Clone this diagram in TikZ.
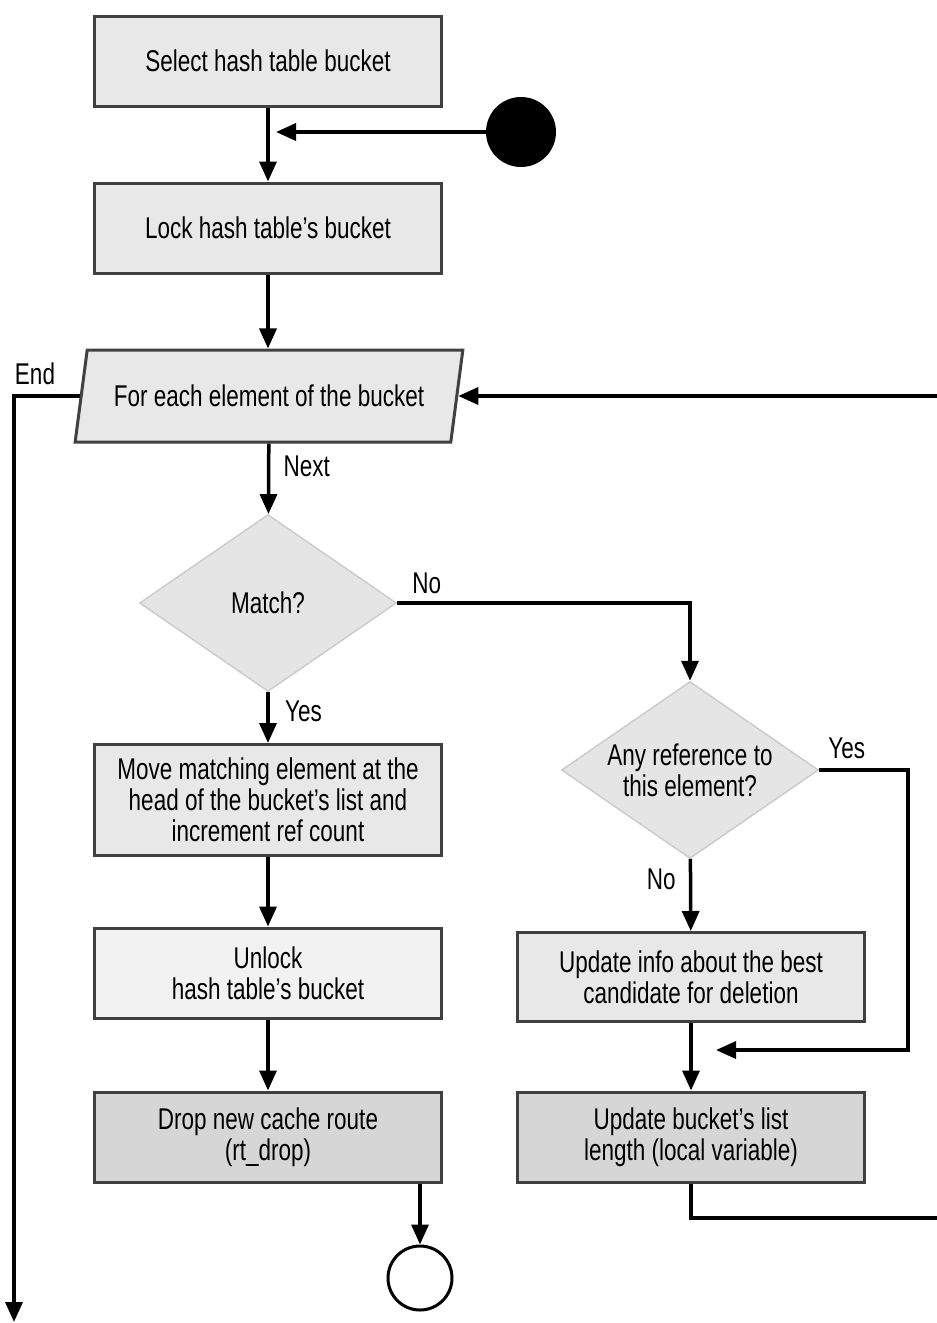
\documentclass[tikz,border=0pt]{standalone}
\usepackage{fontspec}
\setmainfont{Liberation Sans}[FakeStretch=0.75]
\usetikzlibrary{arrows.meta,shapes.geometric}
\definecolor{boxline}{gray}{0.25}
\definecolor{boxfill}{gray}{0.91}
\definecolor{palefill}{gray}{0.95}
\definecolor{darkfill}{gray}{0.84}
\definecolor{diafill}{gray}{0.90}
\definecolor{dialine}{gray}{0.80}

\begin{document}
\begin{tikzpicture}[x=1pt,y=-1pt,font=\fontsize{30}{31}\selectfont,
  box/.style={rectangle,draw=boxline,line width=3pt,fill=boxfill,minimum width=347pt,minimum height=90pt,align=center,inner sep=0pt},
  test/.style={diamond,draw=dialine,line width=1.5pt,fill=diafill,align=center,inner sep=0pt,aspect=1.44,minimum width=257pt,minimum height=177pt},
  arr/.style={line width=3.5pt,-{Triangle[length=20pt,width=17pt]}}]
  \useasboundingbox (0,0) rectangle (937,1323);
  % left column
  \node[box] (select) at (268,61) {Select hash table bucket};
  \node[box] (lock) at (268,228) {Lock hash table's bucket};
  \node[trapezium,trapezium left angle=65,trapezium right angle=115,trapezium stretches=true,draw=boxline,line width=3pt,fill=boxfill,minimum width=388pt,minimum height=92pt,inner sep=0pt] (each) at (269,396) {For each element of the bucket};
  \node[test] (match) at (268,603) {Match?};
  \node[box,minimum height=111pt] (move) at (268,800) {Move matching element at the\\head of the bucket's list and\\increment ref count};
  \node[box,fill=palefill] (unlock) at (268,973) {Unlock\\hash table's bucket};
  \node[box,fill=darkfill] (drop) at (268,1137) {Drop new cache route\\(rt\_drop)};
  % right column
  \node[test] (anyref) at (690,770) {Any reference to\\this element?};
  \node[box,minimum height=89pt] (info) at (691,977) {Update info about the best\\candidate for deletion};
  \node[box,fill=darkfill] (length) at (691,1137) {Update bucket's list\\length (local variable)};
  % start and stop
  \node[circle,fill=black,minimum size=70pt,inner sep=0pt] (start) at (521,132) {};
  \node[circle,draw=black,line width=3pt,fill=white,minimum size=64pt,inner sep=0pt] (stop) at (420,1278) {};
  \node (endlbl) at (35,374) {End};
  \coordinate (joinA) at (276,132);
  \coordinate (bendB) at (908,1050);
  \coordinate (joinB) at (716,1050);
  \coordinate (loopR) at (950,1218);
  \coordinate (endpt) at (14,1322);
  % connectors
  \draw[arr] (select) -- (lock);
  \draw[arr] (start) -- (joinA);
  \draw[arr] (lock) -- (lock.south |- each.north);
  \draw[arr] (each) -- node[right,xshift=10pt,yshift=12pt]{Next} (match);
  \draw[arr] (each.west) -| (endpt);
  \draw[arr] (match) -- node[right,xshift=12pt,yshift=6pt]{Yes} (move);
  \draw[arr] (match.east) node[above right,xshift=10pt,yshift=4pt]{No} -| (anyref.north);
  \draw[arr] (move) -- (unlock);
  \draw[arr] (unlock) -- (drop);
  \draw[arr] (stop.north |- drop.south) -- (stop);
  \draw[arr] (anyref) -- node[left,xshift=-10pt,yshift=16pt]{No} (info);
  \draw[arr] (anyref.east) node[above right,xshift=4pt,yshift=6pt]{Yes} -| (bendB) -- (joinB);
  \draw[arr] (info) -- (length);
  \draw[arr] (length.south) |- (loopR) |- (each.east);
\end{tikzpicture}
\end{document}
